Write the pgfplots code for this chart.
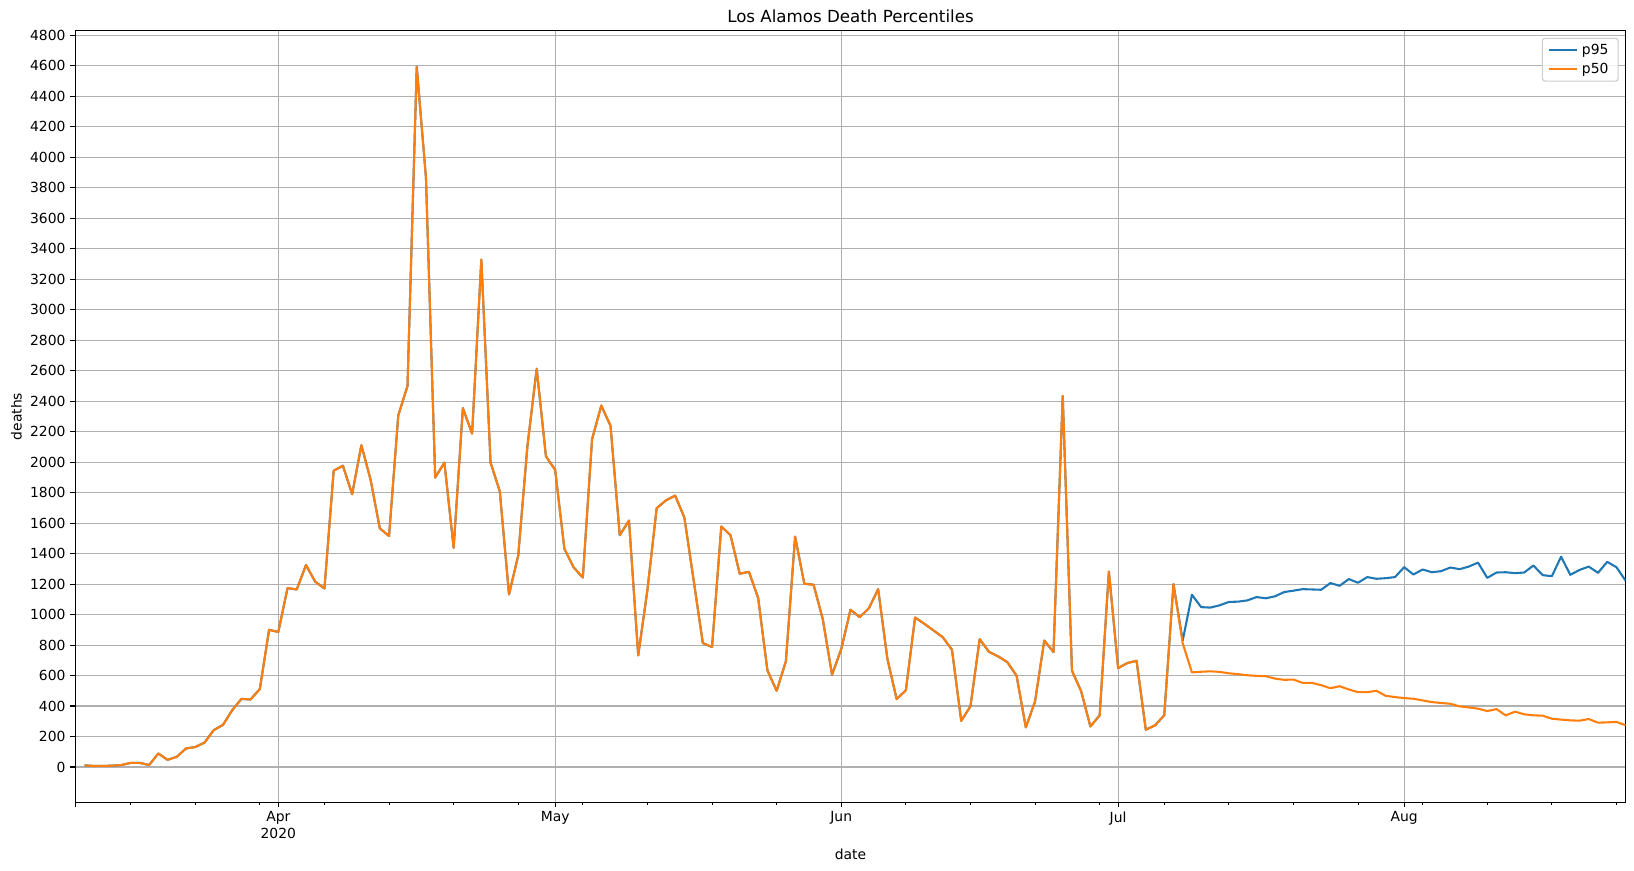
\documentclass[border=0pt]{standalone}
\usepackage{fontspec}
\setmainfont{DejaVu Sans}
\usepackage{pgfplots}
\usepackage{pgfplotstable}
\pgfplotsset{compat=1.18}

\definecolor{c95}{HTML}{1F77B4}
\definecolor{c50}{HTML}{FF7F0E}
\definecolor{gridc}{HTML}{B0B0B0}
\definecolor{legc}{HTML}{CCCCCC}

% day: days since 1 Mar 2020 (Apr 1 = 31, May 1 = 61, ...)
\pgfplotstableread{
day p95 p50
10 11 11
11 7 7
12 7 7
13 9 9
14 13 13
15 27 27
16 27 27
17 13 13
18 89 89
19 47 47
20 67 67
21 122 122
22 131 131
23 160 160
24 242 242
25 276 276
26 372 372
27 447 447
28 443 443
29 512 512
30 900 900
31 886 886
32 1174 1174
33 1165 1165
34 1325 1325
35 1216 1216
36 1171 1171
37 1944 1944
38 1977 1977
39 1790 1790
40 2111 2111
41 1885 1885
42 1566 1566
43 1515 1515
44 2307 2307
45 2500 2500
46 4594 4594
47 3866 3866
48 1899 1899
49 1997 1997
50 1437 1437
51 2355 2355
52 2187 2187
53 3329 3329
54 1997 1997
55 1809 1809
56 1132 1132
57 1389 1389
58 2109 2109
59 2613 2613
60 2039 2039
61 1949 1949
62 1431 1431
63 1310 1310
64 1243 1243
65 2151 2151
66 2372 2372
67 2238 2238
68 1521 1521
69 1617 1617
70 732 732
71 1163 1163
72 1698 1698
73 1749 1749
74 1781 1781
75 1637 1637
76 1228 1228
77 813 813
78 787 787
79 1578 1578
80 1521 1521
81 1268 1268
82 1281 1281
83 1108 1108
84 634 634
85 500 500
86 693 693
87 1512 1512
88 1202 1202
89 1196 1196
90 970 970
91 605 605
92 774 774
93 1032 1032
94 983 983
95 1042 1042
96 1167 1167
97 710 710
98 446 446
99 503 503
100 981 981
101 940 940
102 896 896
103 852 852
104 769 769
105 303 303
106 398 398
107 839 839
108 756 756
109 726 726
110 688 688
111 599 599
112 260 260
113 430 430
114 830 830
115 754 754
116 2435 2435
117 632 632
118 496 496
119 266 266
120 339 339
121 1283 1283
122 649 649
123 682 682
124 697 697
125 245 245
126 273 273
127 339 339
128 1200 1200
129 830 812
130 1130 621
131 1049 625
132 1046 628
133 1061 624
134 1083 615
135 1085 609
136 1093 602
137 1115 598
138 1107 596
139 1120 580
140 1148 572
141 1157 574
142 1167 552
143 1165 552
144 1163 537
145 1207 517
146 1189 530
147 1233 509
148 1209 491
149 1246 491
150 1235 500
151 1239 467
152 1246 459
153 1311 452
154 1263 448
155 1296 437
156 1278 426
157 1285 420
158 1309 415
159 1298 398
160 1315 391
161 1341 383
162 1241 367
163 1276 380
164 1278 339
165 1272 363
166 1276 346
167 1322 339
168 1259 337
169 1252 317
170 1380 311
171 1261 306
172 1293 304
173 1315 315
174 1274 291
175 1346 293
176 1311 296
177 1222 274
}\deaths

\begin{document}
\begin{tikzpicture}
\begin{axis}[
  scale only axis,
  width=1116.3pt, height=555.3pt,
  xmin=9, xmax=177, ymin=-230, ymax=4830,
  xtick={9,31,61,92,122,153},
  xticklabels={{},{Apr\\2020},May,Jun,Jul,Aug},
  minor xtick={15,22,...,176},
  ytick={0,200,...,4800},
  scaled y ticks=false,
  /pgf/number format/assume math mode=true,
  /pgf/number format/1000 sep={},
  tick pos=left, tick align=outside,
  major tick length=3.5pt, minor tick length=2pt,
  tick style={black, line width=0.8pt},
  minor tick style={black, line width=0.6pt},
  xmajorgrids, ymajorgrids,
  major grid style={gridc, line width=0.8pt},
  axis line style={line width=0.8pt},
  tick label style={font=\fontsize{10}{12}\selectfont},
  xticklabel style={align=center},
  label style={font=\fontsize{10}{12}\selectfont},
  title={Los Alamos Death Percentiles},
  title style={font=\fontsize{12}{14.4}\selectfont, at={(axis description cs:0.5,1)},
    anchor=base, inner sep=0pt},
  xlabel={date},
  xlabel style={at={(axis description cs:0.5,0)}, anchor=center, yshift=-37.7pt},
  ylabel={deaths},
  ylabel style={at={(axis description cs:0,0.5)}, anchor=center, yshift=42.3pt},
  legend cell align=left,
  legend image code/.code={\draw[#1] (0pt,0pt) -- (20pt,0pt);},
  legend style={at={(axis description cs:1,1)}, anchor=north east,
    xshift=-5pt, yshift=-5pt, draw=legc, line width=0.8pt, rounded corners=2pt,
    fill=white, fill opacity=0.8, text opacity=1,
    font=\fontsize{10}{12}\selectfont, inner xsep=4pt, inner ysep=3pt,
    row sep=3pt, nodes={inner xsep=3pt, inner ysep=1pt}},
]
\addplot[c95, line width=1.5pt, line join=round] table[x=day, y=p95] {\deaths};
\addlegendentry{p95}
\addplot[c50, line width=1.5pt, line join=round] table[x=day, y=p50] {\deaths};
\addlegendentry{p50}
\coordinate (SW) at (rel axis cs:0,0);
\coordinate (NE) at (rel axis cs:1,1);
\end{axis}
\pgfresetboundingbox
\path[use as bounding box] ([shift={(-54.2pt,-49.6pt)}]SW) rectangle ([shift={(6pt,22.2pt)}]NE);
\end{tikzpicture}
\end{document}
